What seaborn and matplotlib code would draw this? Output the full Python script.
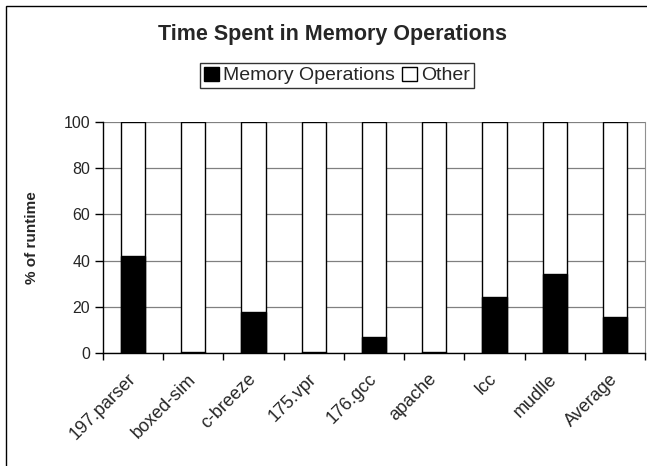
import pandas as pd
import seaborn as sns
import matplotlib.pyplot as plt
from matplotlib.patches import Patch, Rectangle

# Benchmarks and share of runtime spent in memory operations (%)
benchmarks = ["197.parser", "boxed-sim", "c-breeze", "175.vpr", "176.gcc",
              "apache", "lcc", "mudlle", "Average"]
memory_ops = [42.0, 0.4, 17.6, 0.3, 6.9, 0.3, 24.4, 34.0, 15.7]
y_ticks = [0, 20, 40, 60, 80, 100]


def build_frame():
    """Stacked bars: memory share plus the rest up to 100%."""
    df = pd.DataFrame({"benchmark": benchmarks, "memory": memory_ops})
    df["other"] = 100 - df["memory"]
    df["total"] = df["memory"] + df["other"]
    return df


def plot_memory_share(df):
    sns.set_style("white")
    plt.rcParams["font.family"] = ["Liberation Sans", "DejaVu Sans"]

    fig = plt.figure(figsize=(6.47, 4.66), dpi=100)
    ax = fig.add_axes([0.159, 0.2425, 0.838, 0.4957])

    # Full-height white bars ("Other") with the black memory part on top
    sns.barplot(data=df, x="benchmark", y="total", color="white",
                edgecolor="black", linewidth=1.0, width=0.4, ax=ax, zorder=2)
    sns.barplot(data=df, x="benchmark", y="memory", color="black",
                edgecolor="black", linewidth=1.0, width=0.4, ax=ax, zorder=3)

    ax.set_ylim(0, 100)
    ax.set_xlim(-0.5, len(benchmarks) - 0.5)
    ax.set_yticks(y_ticks)
    ax.set_yticklabels([str(t) for t in y_ticks], fontsize=11.5)
    ax.yaxis.grid(True, color="#808080", linewidth=0.9, zorder=0)
    ax.set_axisbelow(True)

    # Tick marks sit between categories, labels at the category centres
    n = len(benchmarks)
    ax.set_xticks([i - 0.5 for i in range(n + 1)])
    ax.set_xticklabels([])
    ax.set_xticks(range(n), minor=True)
    ax.set_xticklabels(benchmarks, minor=True, rotation=45, ha="right",
                       va="center", rotation_mode="anchor", fontsize=13)
    ax.tick_params(axis="x", which="major", direction="out", length=5,
                   width=1, color="black", bottom=True)
    ax.tick_params(axis="x", which="minor", length=0, pad=17)
    ax.tick_params(axis="y", direction="out", length=6, width=1,
                   color="black", left=True, pad=3)

    ax.set_xlabel("")
    ax.set_ylabel("% of runtime", fontsize=11, fontweight="bold")
    ax.yaxis.set_label_coords(-0.118, 0.5)

    for side in ["left", "bottom"]:
        ax.spines[side].set_color("black")
        ax.spines[side].set_linewidth(1.0)
    ax.spines["top"].set_visible(False)
    ax.spines["right"].set_color("#909090")

    fig.text(0.514, 0.925, "Time Spent in Memory Operations", ha="center",
             va="center", fontsize=15.5, fontweight="bold")

    handles = [Patch(facecolor="black", edgecolor="black", label="Memory Operations"),
               Patch(facecolor="white", edgecolor="black", label="Other")]
    leg = fig.legend(handles=handles, loc="center", bbox_to_anchor=(0.521, 0.838),
                     ncol=2, fontsize=14, frameon=True, fancybox=False,
                     handlelength=0.75, handleheight=0.75, handletextpad=0.2,
                     columnspacing=0.4, borderpad=0.2, borderaxespad=0)
    leg.get_frame().set_edgecolor("black")
    leg.get_frame().set_linewidth(1.0)

    # Thin chart-area border around everything
    fig.patches.append(Rectangle((6 / 647, -0.01), 1.2, 1 - 6 / 466 + 0.01,
                                 transform=fig.transFigure, fill=False,
                                 edgecolor="black", linewidth=1.0))

    fig.savefig("out.png", dpi=100)
    return fig


if __name__ == "__main__":
    plot_memory_share(build_frame())
